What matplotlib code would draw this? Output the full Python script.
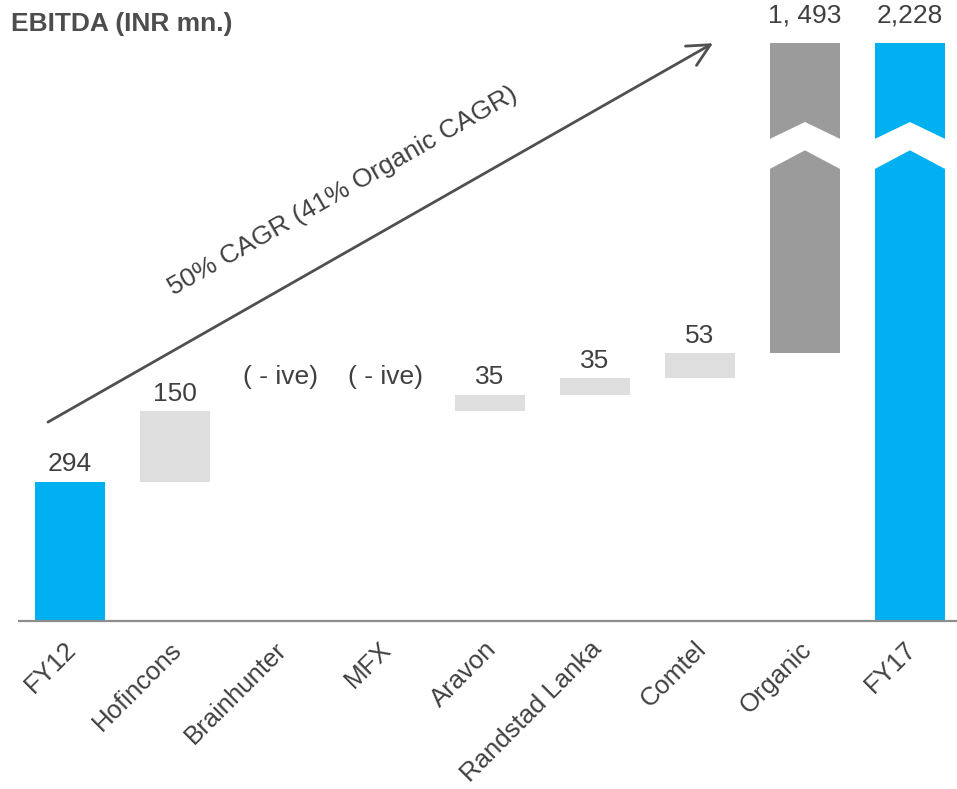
import matplotlib
matplotlib.use("Agg")
import matplotlib.pyplot as plt
from matplotlib.patches import Polygon

plt.rcParams['font.family'] = ['Liberation Sans', 'DejaVu Sans']

# ---- data ----
categories = ["FY12", "Hofincons", "Brainhunter", "MFX", "Aravon",
              "Randstad Lanka", "Comtel", "Organic", "FY17"]
values = [294, 150, None, None, 35, 35, 53, 1493, 2228]
kinds = ["total", "step", "neg", "neg", "step", "step", "step", "organic", "total"]
value_labels = ["294", "150", "( - ive)", "( - ive)", "35", "35", "53", "1, 493", "2,228"]
title = "EBITDA (INR mn.)"
cagr_text = "50% CAGR (41% Organic CAGR)"

# ---- style ----
BLUE = "#00B0F0"
LIGHT = "#DEDEDE"
DARK = "#9B9B9B"
TXT = "#404040"
DISPLAY_CAP = 1224     # broken bars drawn up to this level
BAR_W = 0.67

fig = plt.figure(figsize=(9.57, 7.89), dpi=100)
ax = fig.add_axes([0, 0, 1, 1])
ax.set_xlim(-0.667, 8.448)
ax.set_ylim(-356.7, 1315.6)
ax.axis("off")

running = 0
label_tops = []
for i, (v, k) in enumerate(zip(values, kinds)):
    if k == "total":
        bottom = 0
        top = v
        color = BLUE
        if i > 0:
            top = min(v, DISPLAY_CAP)
        else:
            running = v
    elif k == "step":
        bottom = running
        top = running + v
        running = top
        color = LIGHT
    elif k == "organic":
        bottom = running
        top = min(running + v, DISPLAY_CAP)
        color = DARK
    else:
        label_tops.append((i, running, k))
        continue
    ax.bar(i, top - bottom, bottom=bottom, width=BAR_W, color=color, linewidth=0)
    label_tops.append((i, top, k))
    if top >= DISPLAY_CAP:
        x0 = i - BAR_W / 2 - 0.02
        x1 = i + BAR_W / 2 + 0.02
        up_side, up_mid = DISPLAY_CAP - 205, DISPLAY_CAP - 167
        lo_side, lo_mid = DISPLAY_CAP - 269, DISPLAY_CAP - 227
        poly = Polygon([(x0, up_side), (i, up_mid), (x1, up_side),
                        (x1, lo_side), (i, lo_mid), (x0, lo_side)],
                       closed=True, facecolor="white", edgecolor="none", zorder=3)
        ax.add_patch(poly)

for (i, top, k) in label_tops:
    off = 4
    if k == "neg":
        off = 16
    if top >= DISPLAY_CAP:
        off = 11
    ax.annotate(value_labels[i], (i, top), xytext=(0, off), textcoords="offset points",
                ha="center", va="bottom", fontsize=19, color=TXT)

# baseline
ax.plot([-0.5, 8.448], [0, 0], color="#8C8C8C", lw=1.6, zorder=4, solid_capstyle="butt")

# category labels
for i, c in enumerate(categories):
    ax.annotate(c, (i, 0), xytext=(2, -18), textcoords="offset points",
                ha="right", va="center", rotation=45, rotation_mode="anchor",
                fontsize=18.5, color=TXT)

# CAGR arrow
ax.annotate("", xy=(6.124, 1224), xytext=(-0.21, 421),
            arrowprops=dict(arrowstyle="->,head_length=0.8,head_width=0.4",
                            color="#505050", lw=2, mutation_scale=20,
                            shrinkA=0, shrinkB=0))
ax.text(2.6, 910, cagr_text, rotation=29.7, rotation_mode="anchor",
        ha="center", va="center", fontsize=19, color=TXT)

fig.text(0.011, 0.985, title, ha="left", va="top", fontsize=19,
         fontweight="bold", color="#4D4D4D")

fig.savefig("out.png", dpi=100)
